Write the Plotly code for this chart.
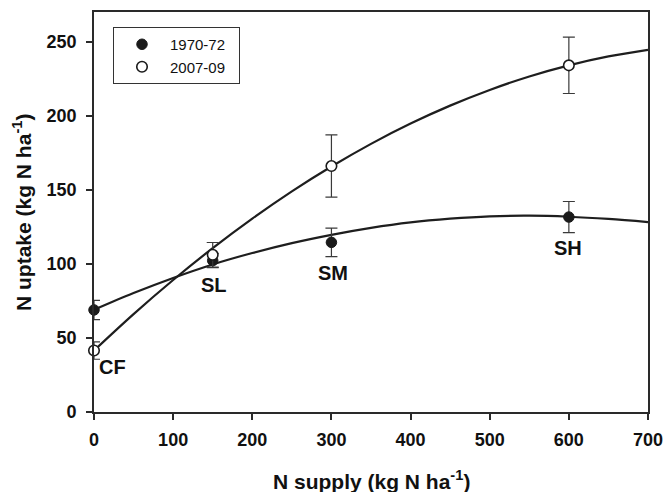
import plotly.graph_objects as go

# ---- data ----
supply = [0, 150, 300, 600]
labels = ["CF", "SL", "SM", "SH"]

uptake_1970 = [68.9, 102.2, 114.5, 131.6]
err_1970 = [6.5, 4.8, 9.6, 10.5]

uptake_2007 = [41.5, 106.1, 166, 234]
err_2007 = [5.9, 8.3, 21, 19]

# fitted response curves
curve_x = [0, 50, 100, 150, 200, 250, 300, 350, 400, 450, 500, 550, 600, 650, 700]
curve_1970 = [69, 80.3, 90.5, 99.6, 107.3, 114, 119.6, 124.3, 128, 130.5, 132.1, 132.5, 131.8, 130.3, 128.2]
curve_2007 = [41.5, 66.1, 89.1, 110.6, 130.5, 148.9, 165.7, 181, 194.7, 206.8, 217.4, 226.5, 234, 240, 244.5]

series_names = ["1970-72", "2007-09"]

# label anchor positions (data units)
label_x = [23, 151.6, 301.5, 599]
label_y = [30.4, 85.8, 94.1, 110.6]

FONT = "Liberation Sans"
INK = "#111111"
LINE = "#1e1e1e"
PAD = "\u00a0\u00a0"

fig = go.Figure()

fig.add_trace(go.Scatter(x=curve_x, y=curve_1970, mode="lines",
                         line=dict(color=LINE, width=2.2, shape="spline"),
                         showlegend=False, hoverinfo="skip"))
fig.add_trace(go.Scatter(x=curve_x, y=curve_2007, mode="lines",
                         line=dict(color=LINE, width=2.2, shape="spline"),
                         showlegend=False, hoverinfo="skip"))

fig.add_trace(go.Scatter(
    x=supply, y=uptake_1970, mode="markers", name=series_names[0] + PAD,
    marker=dict(symbol="circle", size=10.5, color="#1a1a1a", line=dict(color="#1a1a1a", width=1)),
    error_y=dict(type="data", array=err_1970, visible=True, color="#3a3a3a", thickness=1.2, width=6),
    cliponaxis=False))
fig.add_trace(go.Scatter(
    x=supply, y=uptake_2007, mode="markers", name=series_names[1] + PAD,
    marker=dict(symbol="circle", size=10.5, color="white", line=dict(color="#1a1a1a", width=1.6)),
    error_y=dict(type="data", array=err_2007, visible=True, color="#3a3a3a", thickness=1.2, width=6),
    cliponaxis=False))

for lx, ly, t in zip(label_x, label_y, labels):
    fig.add_annotation(x=lx, y=ly, text=t, showarrow=False,
                       font=dict(family=FONT, size=20, color=INK, weight="bold"))

# axis titles
fig.add_annotation(xref="paper", yref="paper", x=0.5, y=-0.17, xanchor="center", yanchor="middle",
                   text="N supply (kg N ha<sup>-1</sup>)", showarrow=False,
                   font=dict(family=FONT, size=21, color=INK, weight="bold"))
fig.add_annotation(xref="paper", yref="paper", x=-0.13, y=0.5, xanchor="center", yanchor="middle",
                   text="N uptake (kg N ha<sup>-1</sup>)", showarrow=False, textangle=-90,
                   font=dict(family=FONT, size=21, color=INK, weight="bold"))

axis_common = dict(
    showline=True, linecolor="#2a2a2a", linewidth=1.8, mirror=True,
    ticks="outside", ticklen=6, tickwidth=1.5, tickcolor="#2a2a2a",
    showgrid=False, zeroline=False, automargin=False,
    tickfont=dict(family=FONT, size=18, color=INK, weight="bold"),
)

fig.update_xaxes(range=[0, 700], dtick=100, tick0=0, ticklabelstandoff=4, **axis_common)
fig.update_yaxes(range=[0, 270], dtick=50, tick0=0, ticklabelstandoff=6, **axis_common)

fig.update_layout(
    width=666, height=492,
    margin=dict(l=94, r=17.5, t=12, b=80),
    plot_bgcolor="white", paper_bgcolor="white",
    legend=dict(x=0.0343, y=0.9625, xanchor="left", yanchor="top",
                bgcolor="white", bordercolor="#333333", borderwidth=1,
                itemwidth=46,
                font=dict(family=FONT, size=15, color=INK)),
)

fig.write_html("out.html", config={"displayModeBar": False},
               post_script="document.body.style.margin='0';document.body.style.overflow='hidden';")
